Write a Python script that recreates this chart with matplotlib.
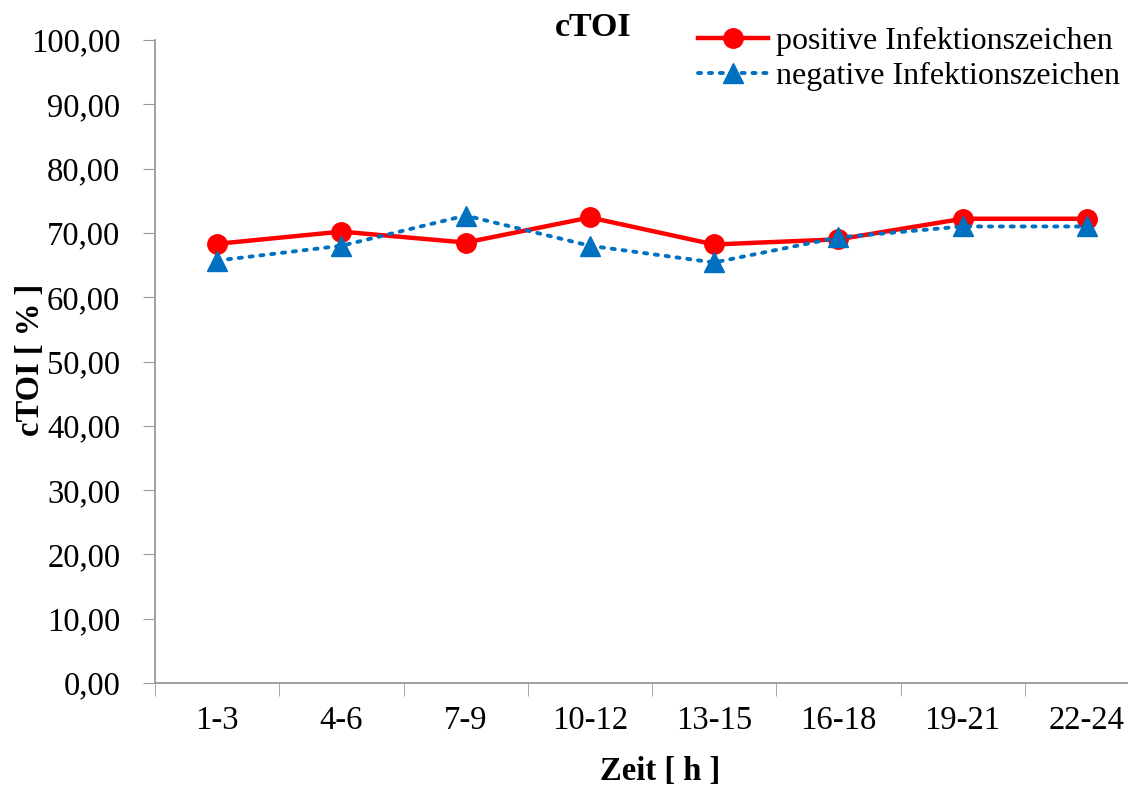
import matplotlib
matplotlib.use("Agg")
import matplotlib.pyplot as plt
import numpy as np
from matplotlib.ticker import FuncFormatter, FixedLocator

plt.rcParams['font.family'] = ['Liberation Serif', 'DejaVu Serif']

zeit = ['1-3', '4-6', '7-9', '10-12', '13-15', '16-18', '19-21', '22-24']
positiv = [68.3, 70.2, 68.5, 72.4, 68.2, 69.0, 72.2, 72.2]
negativ = [65.7, 68.0, 72.7, 68.0, 65.4, 69.3, 71.0, 71.0]

fig = plt.figure(figsize=(11.28, 7.86), dpi=100)
# plot area runs slightly past the right border of the figure
ax = fig.add_axes([155 / 1128, 1 - 683 / 786, 994 / 1128, 643 / 786])

x = np.arange(len(zeit))
ax.plot(x, positiv, color='#FF0000', lw=3.2, marker='o', ms=14,
        label='positive Infektionszeichen', zorder=3)
ax.plot(x, negativ, color='#0070C0', lw=2.8, ls=(0, (0.8, 2.0)),
        dash_capstyle='round', marker='^', ms=14,
        label='negative Infektionszeichen', zorder=4)

ax.set_xlim(-0.5, len(zeit) - 0.5)
ax.set_ylim(0, 100)
ax.set_yticks(np.arange(0, 101, 10))
ax.yaxis.set_major_formatter(FuncFormatter(lambda v, p: f'{v:.2f}'.replace('.', ',')))

ax.set_xticks(x)
ax.set_xticklabels(zeit)
ax.xaxis.set_minor_locator(FixedLocator(np.arange(-0.5, len(zeit), 1.0)))
ax.tick_params(axis='x', which='major', length=0, pad=16, labelsize=23.5)
ax.tick_params(axis='x', which='minor', length=9, color='#999999', direction='out')
ax.tick_params(axis='y', length=9, color='#999999', direction='out', pad=16, labelsize=23.5)

for s in ['top', 'right']:
    ax.spines[s].set_visible(False)
for s in ['left', 'bottom']:
    ax.spines[s].set_color('#999999')
    ax.spines[s].set_linewidth(1.3)

ax.set_xlabel('Zeit [ h ]', fontsize=23.5, fontweight='bold', va='center')
ax.set_ylabel('cTOI [ % ]', fontsize=23.5, fontweight='bold', va='center')
ax.xaxis.set_label_coords((660 - 155) / 994, -(771 - 683) / 643)
ax.yaxis.set_label_coords((30 - 155) / 994, (683 - 360) / 643)
fig.text(593 / 1128, 1 - 28 / 786, 'cTOI', fontsize=24.5, fontweight='bold',
         ha='center', va='center')

fig.legend(loc='upper right', bbox_to_anchor=(1.007, 0.986), frameon=False,
           fontsize=23, handlelength=2.2, handletextpad=0.25,
           labelspacing=0.18, borderaxespad=0.1)

fig.savefig('out.png', dpi=100)
